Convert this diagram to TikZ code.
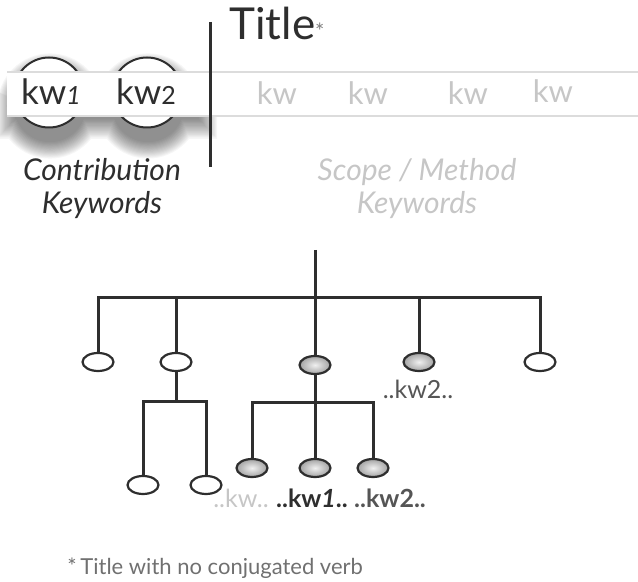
\documentclass[tikz,border=0pt]{standalone}
\usepackage{fontspec}
\setmainfont{Lato}
\usetikzlibrary{shapes.geometric}
\definecolor{ink}{HTML}{2E2E2E}
\definecolor{faint}{HTML}{C6C6C6}
\definecolor{bandline}{HTML}{DCDCDC}
\definecolor{midgray}{HTML}{555555}
\definecolor{notegray}{HTML}{707070}
\tikzset{
  wire/.style={draw=ink, line width=1.5pt},
  leaf/.style={ellipse, draw=ink, line width=1.1pt, fill=white,
    minimum width=15.5pt, minimum height=9pt, inner sep=0pt},
  hit/.style={leaf, shading=radial, inner color=gray!12, outer color=gray!72},
  bandkw/.style={text=faint, font=\fontsize{15.5}{15.5}\selectfont, anchor=base, inner sep=0pt},
  mainkw/.style={text=ink, font=\fontsize{17.5}{17.5}\selectfont, anchor=base, inner sep=0pt},
  caption/.style={font=\itshape\fontsize{15}{16.5}\selectfont, align=center, inner sep=0pt},
  treelabel/.style={font=\fontsize{12.5}{12.5}\selectfont, inner sep=0pt}
}
\begin{document}
\begin{tikzpicture}[x=0.5pt, y=-0.5pt]
\useasboundingbox (0,0) rectangle (638,582);

% soft drop shadow under the contribution keywords, cast downwards
\foreach \i in {1,...,16}{
  \begin{scope}[transparency group, opacity=0.035]
    \fill[black] (16-1.2*\i,100-0.5*\i) rectangle (198+1.2*\i,118+1.3*\i)
      (50,106) circle[radius={17.5pt+\i*0.55pt}]
      (148,106) circle[radius={17.5pt+\i*0.55pt}];
  \end{scope}
}

% keyword discs
\filldraw[fill=white, draw=ink, line width=1pt] (49,92.5) circle[radius=17.5pt];
\filldraw[fill=white, draw=ink, line width=1pt] (147,92.5) circle[radius=17.5pt];

% keyword band
\fill[white] (7,72) rectangle (638,116);
\draw[bandline, line width=0.8pt] (7,72) -- (638,72) (7,116) -- (638,116);

% keywords
\node[mainkw] (kwa) at (51,105) {kw{\itshape\fontsize{12.5}{12.5}\selectfont 1}};
\node[mainkw] (kwb) at (146,105) {kw{\fontsize{12.5}{12.5}\selectfont 2}};
\node[bandkw] (s1) at (277,105) {kw};
\node[bandkw] (s2) at (368,105) {kw};
\node[bandkw] (s3) at (468,105) {kw};
\node[bandkw] (s4) at (553,103) {kw};

% divider and title
\draw[ink, line width=1.5pt] (210,22) -- (210,167);
\node[anchor=base west, inner sep=0pt, text=ink, font=\fontsize{22}{22}\selectfont] (title) at (229,40)
  {Title\textcolor{gray}{\fontsize{11}{11}\selectfont *}};

% captions
\node[caption, text=ink] (contrib) at (102,189) {Contribution\\Keywords};
\node[caption, text=faint] (scope) at (417,189) {Scope / Method\\Keywords};

% tree
\coordinate (top) at (315,250);
\coordinate (hub) at (315,298);
\node[leaf] (n1) at (98,362) {};
\node[leaf] (n2) at (176,362) {};
\node[hit]  (n3) at (315,365) {};
\node[hit]  (n4) at (419,362) {};
\node[leaf] (n5) at (540,362) {};
\coordinate (hubl) at (176,402);
\coordinate (hubm) at (315,403);
\node[leaf] (c1) at (143,485) {};
\node[leaf] (c2) at (206,485) {};
\node[hit]  (d1) at (252,468) {};
\node[hit]  (d2) at (315,468) {};
\node[hit]  (d3) at (373,468) {};

\draw[wire] (top) -- (hub);
\draw[wire] (n1.north) |- (hub) -| (n5.north);
\draw[wire] (n2.north) -- (n2 |- hub);
\draw[wire] (n3.north) -- (hub);
\draw[wire] (n4.north) -- (n4 |- hub);
\draw[wire] (n2.south) -- (hubl);
\draw[wire] (c1.north) |- (hubl) -| (c2.north);
\draw[wire] (n3.south) -- (hubm);
\draw[wire] (d1.north) |- (hubm) -| (d3.north);
\draw[wire] (d2.north) -- (hubm);

% tree labels
\node[treelabel, text=midgray] (l4) at (418,389) {..kw2..};
\node[treelabel, text=faint] (l1) at (241,498) {..kw..};
\node[treelabel, text=ink, font=\bfseries\fontsize{12.5}{12.5}\selectfont] (l2) at (312,498) {..kw{\itshape 1}..};
\node[treelabel, text=midgray, font=\bfseries\fontsize{12.5}{12.5}\selectfont] (l3) at (390,498) {..kw2..};

% footnote
\node[anchor=base west, inner sep=0pt, text=notegray, font=\fontsize{11}{11}\selectfont] (note) at (67,575)
  {*\,Title with no conjugated verb};
\end{tikzpicture}
\end{document}
